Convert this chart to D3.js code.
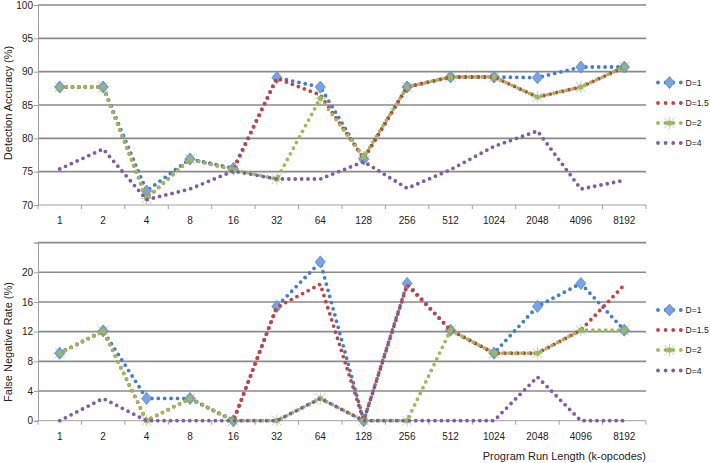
<!DOCTYPE html>
<html lang="en">
<head>
<meta charset="UTF-8">
<script src="https://d3js.org/d3.v7.min.js"></script>
<style>
  body { margin: 0; background: #fff; }
  text { font-family: "Liberation Sans", Arial, sans-serif; fill: #222; }
</style>
</head>
<body>
<div id="chart"></div>
<script>
// categories (k-opcodes)
var runLengths = ["1", "2", "4", "8", "16", "32", "64", "128", "256", "512", "1024", "2048", "4096", "8192"];
var seriesNames = ["D=1", "D=1.5", "D=2", "D=4"];

// Detection accuracy (%)
var accD1  = [87.7, 87.7, 72.1, 76.9, 75.5, 89.1, 87.7, 76.9, 87.7, 89.2, 89.2, 89.1, 90.7, 90.7];
var accD15 = [87.7, 87.7, 71.0, 76.9, 75.3, 89.0, 86.5, 77.0, 87.7, 89.2, 89.2, 86.2, 87.7, 90.7];
var accD2  = [87.7, 87.7, 71.0, 76.9, 75.3, 73.9, 86.0, 77.2, 87.7, 89.2, 89.2, 86.2, 87.7, 90.7];
var accD4  = [75.4, 78.4, 70.8, 72.4, 75.1, 73.9, 73.9, 76.5, 72.5, 75.3, 78.8, 81.1, 72.4, 73.7];

// False negative rate (%)
var fnD1  = [9.1, 12.1, 3.0, 3.0, 0, 15.4, 21.4, 0, 18.5, 12.2, 9.1, 15.4, 18.5, 12.2];
var fnD15 = [9.1, 12.1, 0, 3.0, 0, 15.3, 18.4, 0, 18.3, 12.2, 9.1, 9.1, 12.2, 18.3];
var fnD2  = [9.1, 12.1, 0, 3.0, 0, 0, 3.0, 0, 0, 12.2, 9.1, 9.1, 12.2, 12.2];
var fnD4  = [0, 3.0, 0, 0, 0, 0, 3.0, 0, 0, 0, 0, 5.9, 0, 0];

var accTicks = [70, 75, 80, 85, 90, 95, 100];
var fnTicks = [0, 4, 8, 12, 16, 20];
var fnGrid = [0, 4, 8, 12, 16, 20, 24];

var colors = ["#3f7fcf", "#c9413e", "#9bbb59", "#7d5ea6"];
var markers = ["diamond", null, "star", null];

var svg = d3.select("#chart").append("svg")
    .attr("width", 710)
    .attr("height", 463);

var x = d3.scaleBand()
    .domain(runLengths)
    .range([38, 646]);

function cx(c) { return x(c) + x.bandwidth() / 2; }

function drawMarker(g, type, px, py) {
    if (type == "diamond") {
        g.append("path")
            .attr("d", "M0,-6L5,0L0,6L-5,0Z")
            .attr("transform", "translate(" + px + "," + py + ")")
            .attr("fill", "#78a4e4")
            .attr("stroke", "#4d86d6")
            .attr("stroke-width", 0.8);
    } else if (type == "star") {
        var m = g.append("g").attr("transform", "translate(" + px + "," + py + ")");
        m.append("path")
            .attr("d", "M-5,-5L5,5M-5,5L5,-5M0,-6L0,6M-6,0L6,0")
            .attr("stroke", "#8c9a78")
            .attr("stroke-width", 0.7)
            .attr("opacity", 0.7);
        m.append("circle")
            .attr("r", 2.6)
            .attr("fill", "#9bbb59");
    }
}

function panel(cfg) {
    var y = d3.scaleLinear().domain(cfg.domain).range(cfg.range);
    var g = svg.append("g");

    // gridlines
    g.selectAll("line.grid")
        .data(cfg.grid)
        .enter()
        .append("line")
        .attr("x1", 38)
        .attr("x2", 646)
        .attr("y1", function (d) { return y(d); })
        .attr("y2", function (d) { return y(d); })
        .attr("stroke", function (d) { return d == cfg.domain[0] ? "#a0a0a0" : "#8a8a8a"; })
        .attr("stroke-width", function (d) { return d == cfg.domain[0] ? 1 : 1.6; });

    // y axis
    var yAxis = g.append("g")
        .attr("transform", "translate(38,0)")
        .call(d3.axisLeft(y).tickValues(cfg.grid).tickSize(4)
            .tickFormat(function (d) { return cfg.ticks.indexOf(d) >= 0 ? d : ""; }));
    yAxis.select(".domain").attr("stroke", "#a0a0a0");
    yAxis.selectAll(".tick line").attr("stroke", "#a0a0a0");
    yAxis.selectAll("text")
        .attr("font-size", "10px")
        .attr("font-family", "Liberation Sans, Arial, sans-serif")
        .attr("fill", "#222")
        .attr("x", -5);

    // x ticks at category boundaries
    var bounds = runLengths.map(function (c) { return x(c); }).concat([x.range()[1]]);
    g.selectAll("line.xt")
        .data(bounds)
        .enter()
        .append("line")
        .attr("x1", function (d) { return d; })
        .attr("x2", function (d) { return d; })
        .attr("y1", y(cfg.domain[0]))
        .attr("y2", y(cfg.domain[0]) + 4)
        .attr("stroke", "#a0a0a0");

    g.selectAll("text.xl")
        .data(runLengths)
        .enter()
        .append("text")
        .attr("x", function (d) { return cx(d); })
        .attr("y", y(cfg.domain[0]) + 19)
        .attr("text-anchor", "middle")
        .attr("font-size", "10px")
        .text(function (d) { return d; });

    // y title
    g.append("text")
        .attr("transform", "translate(12," + cfg.titleY + ")rotate(-90)")
        .attr("text-anchor", "middle")
        .attr("font-size", "11px")
        .text(cfg.title);

    // series
    var line = d3.line()
        .x(function (d, i) { return cx(runLengths[i]); })
        .y(function (d) { return y(d); });

    cfg.series.forEach(function (s, k) {
        g.append("path")
            .attr("d", line(s))
            .attr("fill", "none")
            .attr("stroke", colors[k])
            .attr("stroke-width", 3.8)
            .attr("stroke-linecap", "round")
            .attr("stroke-dasharray", "0 6.4");
        if (markers[k]) {
            s.forEach(function (v, i) {
                drawMarker(g, markers[k], cx(runLengths[i]), y(v));
            });
        }
    });

    // legend
    seriesNames.forEach(function (name, k) {
        var ly = cfg.legendY[k];
        g.append("path")
            .attr("d", "M658," + ly + "L681," + ly)
            .attr("stroke", colors[k])
            .attr("stroke-width", 3.8)
            .attr("stroke-linecap", "round")
            .attr("stroke-dasharray", "0 7.6");
        if (markers[k]) drawMarker(g, markers[k], 669.5, ly);
        g.append("text")
            .attr("x", 685.5)
            .attr("y", ly + 3.2)
            .attr("font-size", "8.6px")
            .text(name);
    });
}

panel({
    domain: [70, 100],
    range: [205, 5],
    grid: accTicks,
    ticks: accTicks,
    title: "Detection Accuracy (%)",
    titleY: 103,
    series: [accD1, accD15, accD2, accD4],
    legendY: [82.5, 103, 123, 143]
});

panel({
    domain: [0, 24],
    range: [420.7, 242.6],
    grid: fnGrid,
    ticks: fnTicks,
    title: "False Negative Rate (%)",
    titleY: 342,
    series: [fnD1, fnD15, fnD2, fnD4],
    legendY: [310, 330, 350, 370.5]
});

// x title
svg.append("text")
    .attr("x", 646)
    .attr("y", 460)
    .attr("text-anchor", "end")
    .attr("font-size", "11px")
    .text("Program Run Length (k-opcodes)");
</script>
</body>
</html>
